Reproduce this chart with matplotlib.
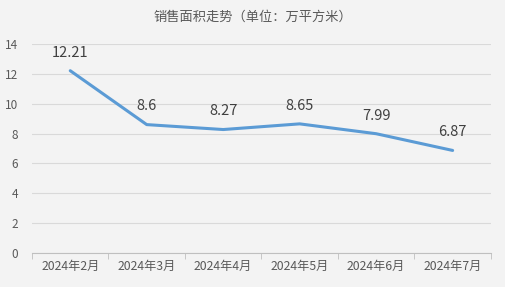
import matplotlib.pyplot as plt

plt.rcParams['font.family'] = ['Noto Sans CJK SC', 'DejaVu Sans']

months = ["2024年2月", "2024年3月", "2024年4月", "2024年5月", "2024年6月", "2024年7月"]
area = [12.21, 8.6, 8.27, 8.65, 7.99, 6.87]
yticks = [0, 2, 4, 6, 8, 10, 12, 14]

fig = plt.figure(figsize=(5.05, 2.87), dpi=100, facecolor="#f3f3f3")
ax = fig.add_axes([0.0634, 0.1185, 0.9086, 0.7282], facecolor="#f3f3f3")

x = list(range(len(months)))
ax.plot(x, area, color="#5b9bd5", lw=2.2, solid_capstyle="round", zorder=3)

# 数据标签
for i, v in zip(x, area):
    ax.annotate("{:g}".format(v), (i, v), xytext=(0, 8), textcoords="offset points",
                ha="center", va="bottom", fontsize=10.5, color="#404040")

ax.set_xlim(-0.5, len(months) - 0.5)
ax.set_ylim(0, 14)
ax.set_yticks(yticks)
ax.set_yticklabels([str(t) for t in yticks], fontsize=8.5, color="#595959")
ax.yaxis.grid(True, color="#d9d9d9", lw=0.8)
ax.set_axisbelow(True)
ax.tick_params(axis="y", length=0, pad=10)

ax.set_xticks(x)
ax.set_xticklabels(months, fontsize=8.8, color="#595959")
ax.set_xticks([i - 0.5 for i in range(len(months) + 1)], minor=True)
ax.tick_params(axis="x", which="major", length=0, pad=5)
ax.tick_params(axis="x", which="minor", length=4, color="#bfbfbf", direction="out")

for s in ["top", "right", "left"]:
    ax.spines[s].set_visible(False)
ax.spines["bottom"].set_color("#bfbfbf")

fig.text(0.5, 0.94, "销售面积走势（单位：万平方米）", ha="center", va="center",
         fontsize=9.5, color="#595959")

fig.savefig("out.png", dpi=100, facecolor=fig.get_facecolor())
